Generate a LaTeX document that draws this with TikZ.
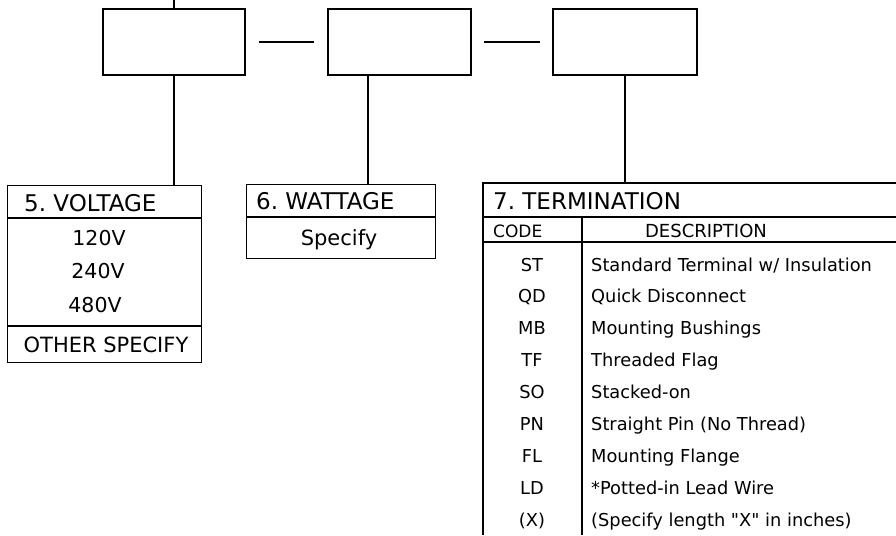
\documentclass[tikz,border=0pt]{standalone}
\usepackage{fontspec}
\setmainfont{DejaVu Sans}
\usetikzlibrary{positioning,calc}
\tikzset{
  wire/.style    = {line width=1.3pt},
  topbox/.style  = {draw, wire, rectangle, inner sep=0pt,
                    minimum width=142pt, minimum height=66pt},
  tabbox/.style  = {draw, wire, rectangle, inner sep=0pt, anchor=north west},
  hdr/.style     = {anchor=base west, inner sep=0pt,
                    font=\fontsize{23}{26}\selectfont},
  val/.style     = {anchor=base, inner sep=0pt,
                    font=\fontsize{20.5}{24}\selectfont},
  colhdr/.style  = {anchor=base, inner sep=0pt,
                    font=\fontsize{17}{20}\selectfont},
  code/.style    = {anchor=base, inner sep=0pt,
                    font=\fontsize{17.8}{21}\selectfont},
  desc/.style    = {anchor=base west, inner sep=0pt,
                    font=\fontsize{17.8}{21}\selectfont},
}
\begin{document}
\frenchspacing
\begin{tikzpicture}[x=1pt,y=-1pt]
\useasboundingbox (0,0) rectangle (896,535);
% part number boxes
\node[topbox] (optbox) at (174,42) {};
\node[topbox, minimum width=143pt] (wattbox) at (399.5,42) {};
\node[topbox, minimum width=144pt] (termbox) at (625,42) {};
\coordinate (lead) at (174,0);
\draw[wire] (lead) -- (optbox.north);
\draw[wire] ([xshift=13pt]optbox.east) -- ([xshift=-13pt]wattbox.west);
\draw[wire] ([xshift=12pt]wattbox.east) -- ([xshift=-12pt]termbox.west);

% voltage table
\node[tabbox, minimum width=194pt, minimum height=177pt] (volt) at (7,185) {};
\draw[wire] (volt.west |- 0,218) -- (volt.east |- 0,218);
\draw[wire] (volt.west |- 0,326) -- (volt.east |- 0,326);
\draw[wire] (optbox.south) -- (optbox.south |- volt.north);
\node[hdr] (volthdr) at (24,211) {5. VOLTAGE};
\node[val] (v120) at (99,245) {120V};
\node[val] (v240) at (98,278) {240V};
\node[val] (v480) at (95,312) {480V};
\node[val, font=\fontsize{21}{24}\selectfont] (vother) at (106,352) {OTHER SPECIFY};

% wattage table
\node[tabbox, minimum width=189pt, minimum height=74pt] (watt) at (246,184) {};
\draw[wire] (watt.west |- 0,217) -- (watt.east |- 0,217);
\draw[wire] ([xshift=-31.5pt]wattbox.south) -- ([xshift=-31.5pt]wattbox.south |- watt.north);
\node[hdr] (watthdr) at (256,209) {6. WATTAGE};
\node[val, font=\fontsize{21}{24}\selectfont] (wspec) at (339,245) {Specify};

% termination table (open to the right and below)
\coordinate (tNW) at (483,183);
\coordinate (tNE) at (896,183);
\coordinate (tSW) at (483,535);
\coordinate (tcolT) at (582,217);
\coordinate (tcolB) at (582,535);
\draw[wire] (tNE) -- (tNW) -- (tSW);
\draw[wire] (tNW |- tcolT) -- (tNE |- tcolT);
\draw[wire] (tNW |- 0,242) -- (tNE |- 0,242);
\draw[wire] (tcolT) -- (tcolB);
\draw[wire] (termbox.south) -- (termbox.south |- tNW);
\node[hdr] (termhdr) at (493,209) {7. TERMINATION};
\node[colhdr, anchor=base west] (codehdr) at (493,237) {CODE};
\node[colhdr, font=\fontsize{18}{21}\selectfont] (deschdr) at (706,237) {DESCRIPTION};
\foreach \c/\d [count=\i from 0] in {ST/{Standard Terminal w/ Insulation},
    QD/{Quick Disconnect}, MB/{Mounting Bushings}, TF/{Threaded Flag},
    SO/{Stacked-on}, PN/{Straight Pin (No Thread)}, FL/{Mounting Flange},
    LD/{*Potted-in Lead Wire},
    (X)/{(Specify length \textquotedbl X\textquotedbl\ in inches)}} {
  \node[code] (code\i) at (532,271+31.9*\i) {\c};
  \node[desc] (desc\i) at (591,271+31.9*\i) {\d};
}
\end{tikzpicture}
\end{document}
